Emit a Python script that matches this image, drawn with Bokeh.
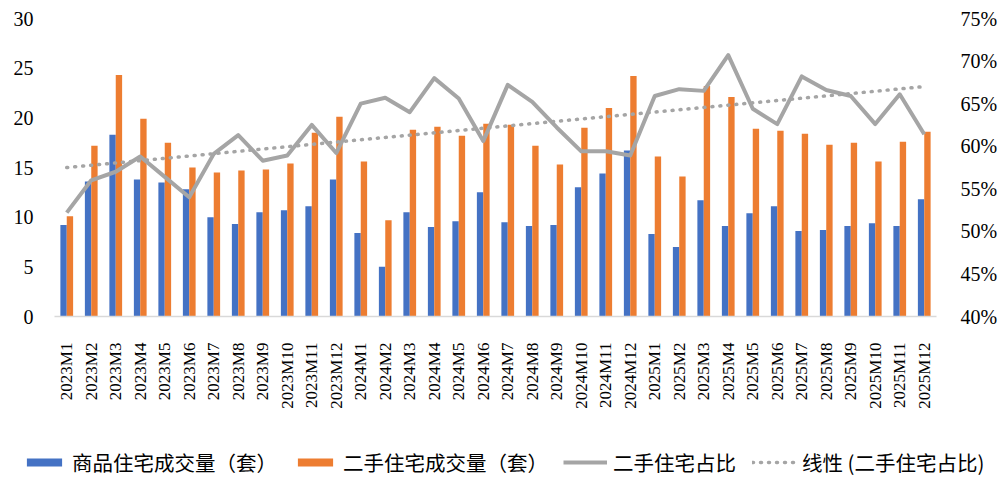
from bokeh.plotting import figure
from bokeh.models import (ColumnDataSource, FactorRange, Range1d, LinearAxis, FixedTicker,
                          PrintfTickFormatter, Legend, LegendItem)
from bokeh.transform import dodge
from bokeh.embed import file_html
from bokeh.resources import INLINE
from math import pi

months = [f"{y}M{m}" for y in (2023, 2024, 2025) for m in range(1, 13)]

new_home = [9.2, 13.6, 18.3, 13.8, 13.5, 12.8, 10.0, 9.3, 10.5, 10.7, 11.1, 13.8,
            8.4, 5.0, 10.5, 9.0, 9.6, 12.5, 9.5, 9.1, 9.2, 13.0, 14.4, 16.7,
            8.3, 7.0, 11.7, 9.1, 10.4, 11.1, 8.6, 8.7, 9.1, 9.4, 9.1, 11.8]
second_hand = [10.1, 17.2, 24.3, 19.9, 17.5, 15.0, 14.5, 14.7, 14.8, 15.4, 18.5, 20.1,
               15.6, 9.7, 18.8, 19.1, 18.2, 19.4, 19.3, 17.2, 15.3, 19.0, 21.0, 24.2,
               16.1, 14.1, 23.2, 22.1, 18.9, 18.7, 18.4, 17.3, 17.5, 15.6, 17.6, 18.6]
share = [52.2, 56.0, 57.0, 58.8, 56.4, 54.0, 59.1, 61.3, 58.3, 58.9, 62.5, 59.2,
         65.0, 65.7, 64.0, 68.0, 65.6, 60.6, 67.2, 65.2, 62.2, 59.4, 59.4, 58.9,
         65.9, 66.7, 66.5, 70.7, 64.4, 62.6, 68.2, 66.6, 65.9, 62.6, 66.1, 61.4]
trend_ends = [57.5, 67.0]

left_ticks = [0, 5, 10, 15, 20, 25, 30]
right_ticks = [40, 45, 50, 55, 60, 65, 70, 75]
legend_labels = ["商品住宅成交量（套）", "二手住宅成交量（套）", "二手住宅占比", "线性 (二手住宅占比)"]

BLUE = "#4472C4"
ORANGE = "#ED7D31"
GREY = "#A5A5A5"
serif = "Liberation Serif"

src = ColumnDataSource(dict(m=months, new=new_home, sec=second_hand, share=share))

p = figure(width=1000, height=430, x_range=FactorRange(*months, range_padding=0),
           y_range=Range1d(0, 30), output_backend="svg", toolbar_location=None,
           min_border_left=54, min_border_right=59, min_border_top=18, min_border_bottom=114)
p.outline_line_color = None
p.xgrid.visible = False
p.ygrid.visible = False
p.extra_y_ranges = {"pct": Range1d(40, 75)}

p.vbar(x=dodge("m", -0.13, range=p.x_range), top="new", width=0.26, source=src,
       fill_color=BLUE, line_color=None)
p.vbar(x=dodge("m", 0.13, range=p.x_range), top="sec", width=0.26, source=src,
       fill_color=ORANGE, line_color=None)
p.line(x="m", y="share", source=src, y_range_name="pct", line_color=GREY,
       line_width=4, line_join="round")
p.line(x=[months[0], months[-1]], y=trend_ends, y_range_name="pct", line_color=GREY,
       line_width=3.5, line_dash="1 7", line_cap="round")

ya = p.yaxis[0]
ya.ticker = FixedTicker(ticks=left_ticks)
ya.axis_line_color = None
ya.major_tick_line_color = None
ya.minor_tick_line_color = None
ya.major_label_text_font = serif
ya.major_label_text_font_size = "20px"
ya.major_label_text_color = "#000000"
ya.major_label_standoff = 15

ra = LinearAxis(y_range_name="pct", ticker=FixedTicker(ticks=right_ticks),
                formatter=PrintfTickFormatter(format="%d%%"))
ra.axis_line_color = None
ra.major_tick_line_color = None
ra.minor_tick_line_color = None
ra.major_label_text_font = serif
ra.major_label_text_font_size = "20px"
ra.major_label_text_color = "#000000"
ra.major_label_standoff = 18
p.add_layout(ra, "right")

xa = p.xaxis[0]
xa.axis_line_color = "#D9D9D9"
xa.axis_line_width = 1.5
xa.major_tick_line_color = None
xa.minor_tick_line_color = None
xa.major_label_orientation = pi / 2
xa.major_label_text_font = serif
xa.major_label_text_font_size = "17px"
xa.major_label_text_color = "#000000"
xa.major_label_standoff = 20

# legend strip below the chart (separate root, so its frame spans the full width)
q = figure(width=1000, height=74, x_range=Range1d(0, 1), y_range=Range1d(0, 1),
           x_axis_location=None, y_axis_location=None,
           output_backend="svg", toolbar_location=None,
           min_border_left=0, min_border_right=0, min_border_top=0, min_border_bottom=0)
q.xgrid.visible = False
q.ygrid.visible = False
q.outline_line_color = None
r1 = q.vbar(x=[-5], top=[-5], width=0.1, fill_color=BLUE, line_color=None)
r2 = q.vbar(x=[-5], top=[-5], width=0.1, fill_color=ORANGE, line_color=None)
r3 = q.line(x=[-5, -4], y=[-5, -5], line_color=GREY, line_width=4)
r4 = q.line(x=[-5, -4], y=[-5, -5], line_color=GREY, line_width=3.5, line_dash="1 7",
            line_cap="round")

legend_x = [22, 293, 563, 752]
for lab, r, lx in zip(legend_labels, [r1, r2, r3, r4], legend_x):
    lg = Legend(items=[LegendItem(label=lab, renderers=[r])], location=(lx, 27))
    lg.background_fill_alpha = 0
    lg.border_line_color = None
    lg.padding = 0
    lg.margin = 0
    lg.glyph_width = 44
    lg.glyph_height = 10
    lg.label_standoff = 6
    lg.label_text_font = "Noto Sans CJK SC"
    lg.label_text_font_size = "20.5px"
    lg.label_text_color = "#000000"
    q.add_layout(lg, "center")

open("out.html", "w").write(file_html([p, q], INLINE))
